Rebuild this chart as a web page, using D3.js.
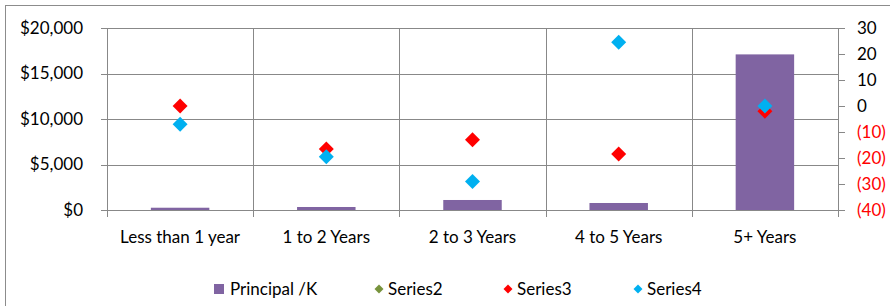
<!DOCTYPE html>
<html><head><meta charset="utf-8">
<script src="https://cdn.jsdelivr.net/npm/d3@7"></script>
<style>
html,body{margin:0;padding:0;background:#fff;}
svg{display:block;font-family:Lato,"Open Sans",sans-serif;}
</style></head>
<body>
<svg id="chart" width="890" height="306"></svg>
<script>
const categories = ["Less than 1 year", "1 to 2 Years", "2 to 3 Years", "4 to 5 Years", "5+ Years"];
const principal = [250, 330, 1100, 770, 17100];
const series2 = [null, null, null, null, null];
const series3 = [0, -16.5, -13, -18.5, -2];
const series4 = [-7, -19.5, -29, 24.5, 0];
const leftTicks = [0, 5000, 10000, 15000, 20000];
const rightTicks = [-40, -30, -20, -10, 0, 10, 20, 30];
const legendNames = ["Principal /K", "Series2", "Series3", "Series4"];
const colors = {principal: "#8064A2", s2: "#77933C", s3: "#FF0000", s4: "#00B0F0"};

const svg = d3.select("#chart");
const L = 107, R = 838, T = 28, B = 210;
const grid = "#888888";
const FS = 17;

svg.append("rect").attr("x", 5.5).attr("y", 5.5).attr("width", 900).attr("height", 320)
  .attr("fill", "#fff").attr("stroke", "#8c8c8c").attr("stroke-width", 1);

const x = d3.scaleBand().domain(categories).range([L, R]).paddingInner(0).paddingOuter(0);
const yL = d3.scaleLinear().domain([0, 20000]).range([B, T]);
const yR = d3.scaleLinear().domain([-40, 30]).range([B, T]);

// horizontal gridlines
svg.append("g").selectAll("line").data(leftTicks).join("line")
  .attr("x1", L - 6).attr("x2", R)
  .attr("y1", d => Math.round(yL(d)) + 0.5).attr("y2", d => Math.round(yL(d)) + 0.5)
  .attr("stroke", grid).attr("stroke-width", 1);

// vertical gridlines at category boundaries
const bounds = categories.map(c => x(c)).concat([R]);
svg.append("g").selectAll("line").data(bounds).join("line")
  .attr("x1", d => Math.round(d) + 0.5).attr("x2", d => Math.round(d) + 0.5)
  .attr("y1", T).attr("y2", B + 7)
  .attr("stroke", grid).attr("stroke-width", 1);

// right axis ticks
svg.append("g").selectAll("line").data(rightTicks).join("line")
  .attr("x1", R).attr("x2", R + 7)
  .attr("y1", d => Math.round(yR(d)) + 0.5).attr("y2", d => Math.round(yR(d)) + 0.5)
  .attr("stroke", grid).attr("stroke-width", 1);

// bars
const bw = x.bandwidth() * 0.4;
svg.append("g").selectAll("rect").data(principal).join("rect")
  .attr("x", (d, i) => x(categories[i]) + x.bandwidth() / 2 - bw / 2)
  .attr("width", bw)
  .attr("y", d => yL(d))
  .attr("height", d => yL(0) - yL(d))
  .attr("fill", colors.principal);

// markers
const diamond = d3.symbol(d3.symbolSquare, 112);
function drawSeries(vals, color) {
  svg.append("g").selectAll("path").data(vals.map((v, i) => ({v, c: categories[i]})).filter(d => d.v != null)).join("path")
    .attr("d", diamond)
    .attr("transform", d => `translate(${x(d.c) + x.bandwidth() / 2},${yR(d.v)}) rotate(45)`)
    .attr("fill", color);
}
drawSeries(series2, colors.s2);
drawSeries(series3, colors.s3);
drawSeries(series4, colors.s4);

// left labels
const fmt = d => "$" + d3.format(",")(d);
svg.append("g").selectAll("text").data(leftTicks).join("text")
  .attr("x", 83).attr("y", d => yL(d)).attr("dy", "0.35em")
  .attr("text-anchor", "end").attr("font-size", FS).attr("fill", "#000")
  .text(fmt);

// right labels
svg.append("g").selectAll("text").data(rightTicks).join("text")
  .attr("x", 857).attr("y", d => yR(d)).attr("dy", "0.35em")
  .attr("text-anchor", "start").attr("font-size", FS)
  .attr("fill", d => d < 0 ? "#FF0000" : "#000")
  .text(d => d < 0 ? "(" + Math.abs(d) + ")" : String(d));

// category labels
svg.append("g").selectAll("text").data(categories).join("text")
  .attr("x", d => x(d) + x.bandwidth() / 2).attr("y", 237).attr("dy", "0.35em")
  .attr("text-anchor", "middle").attr("font-size", FS).attr("fill", "#000")
  .text(d => d);

// legend
const legX = [214, 379, 508, 638];
const leg = svg.append("g");
legendNames.forEach((name, i) => {
  const cx = legX[i];
  if (i === 0) {
    leg.append("rect").attr("x", cx).attr("y", 284).attr("width", 10).attr("height", 10).attr("fill", colors.principal);
    leg.append("text").attr("x", cx + 16).attr("y", 289).attr("dy", "0.35em").attr("font-size", FS).text(name);
  } else {
    const col = [null, colors.s2, colors.s3, colors.s4][i];
    leg.append("path").attr("d", d3.symbol(d3.symbolSquare, 40)).attr("transform", `translate(${cx},289) rotate(45)`).attr("fill", col);
    leg.append("text").attr("x", cx + 9).attr("y", 289).attr("dy", "0.35em").attr("font-size", FS).text(name);
  }
});
</script>
</body></html>
